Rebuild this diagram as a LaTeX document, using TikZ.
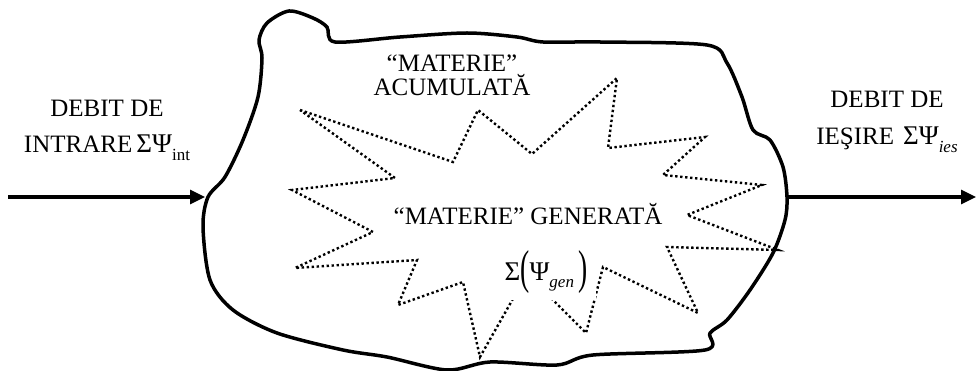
\documentclass[tikz,border=0pt]{standalone}
\usepackage{fontspec}
\setmainfont{Liberation Serif}
\usetikzlibrary{arrows.meta}
\newcommand{\idx}[1]{\raisebox{-8pt}{\fontsize{17}{17}\selectfont #1}}
\newcommand{\gr}[1]{{\fontsize{27}{30}\selectfont #1}}
\newcommand{\bigpar}[1]{\raisebox{-3pt}{\scalebox{1.1}[1.9]{#1}}}
\tikzset{
  txt/.style={font=\fontsize{25}{30}\selectfont,inner sep=0pt,anchor=base},
  ar/.style={-{Triangle[length=15pt,width=14pt]},line width=3.2pt},
  blob/.style={line width=3.5pt,line join=round},
  burst/.style={line width=2.4pt,dash pattern=on 2.4pt off 2.6pt,line join=miter},
}
\begin{document}
\begin{tikzpicture}[x=1pt,y=-1pt]
  \useasboundingbox (0,0) rectangle (977,371);
  % contur
  \draw[blob] plot[smooth cycle,tension=0.5] coordinates {
    (259,40) (267,23) (289,11) (313,18) (327,27) (335,42) (400,37) (467,33)
    (517,37) (543,42) (600,42) (707,45) (727,63) (742,97) (753,130) (770,140)
    (783,167) (787,197) (785,220) (773,253) (750,290) (727,320) (710,333)
    (705,350) (593,355) (557,365) (490,362) (447,370) (387,357) (343,350)
    (277,333) (233,310) (210,280) (203,227) (208,197) (225,177) (243,140)
    (258,97) (262,58)};
  % stea
  \draw[burst] (300,110) -- (453,162) -- (478,110) -- (532,154) -- (617,78)
    -- (608,148) -- (705,137) -- (663,175) -- (762,185) -- (687,215)
    -- (778,250) -- (667,247) -- (698,313) -- (603,267) -- (586,333)
    -- (527,274) -- (480,357) -- (463,282) -- (398,305) -- (417,260)
    -- (295,268) -- (373,232) -- (292,190) -- (395,178) -- cycle;
  \node[txt] (acA) at (452,72) {“MATERIE”};
  \node[txt] (acB) at (452,96) {ACUMULATĂ};
  \node[txt] (gen) at (528,225) {“MATERIE” GENERATĂ};
  \node[txt,fill=white,inner xsep=9pt,inner ysep=7pt] (sum) at (546,280)
    {\gr{Σ}\bigpar{(}\gr{Ψ}\idx{\itshape gen}\,\bigpar{)}};
  \node[txt] (inA) at (107,117) {DEBIT DE};
  \node[txt] (inB) at (107,153) {INTRARE\,\gr{ΣΨ}\idx{int}};
  \node[txt] (outA) at (887,108) {DEBIT DE};
  \node[txt] (outB) at (887,145) {IEŞIRE\hspace{9pt}\gr{ΣΨ}\idx{\itshape ies}};
  \coordinate (inL) at (8,197);
  \coordinate (blobL) at (205,197);
  \coordinate (blobR) at (787,197);
  \coordinate (outR) at (976,197);
  \draw[ar] (inL) -- (blobL);
  \draw[ar] (blobR) -- (outR);
\end{tikzpicture}
\end{document}
